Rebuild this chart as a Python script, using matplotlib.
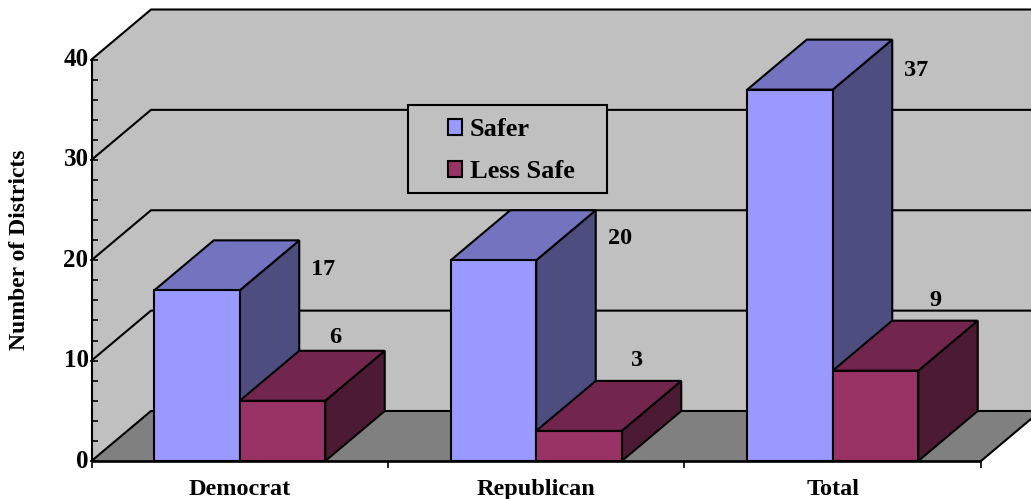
import matplotlib
matplotlib.use("Agg")
import matplotlib.pyplot as plt
from matplotlib.patches import Polygon, Patch, Rectangle

categories = ["Democrat", "Republican", "Total"]
safer = [17, 20, 37]
less_safe = [6, 3, 9]
series_names = ["Safer", "Less Safe"]
y_major = [0, 10, 20, 30, 40]
y_minor = [2, 4, 6, 8, 12, 14, 16, 18, 22, 24, 26, 28, 32, 34, 36, 38]

W, H = 1031, 499
FONT = "Liberation Serif"
FS = 17.5
LW = 1.5
WALL, FLOOR = "#C0C0C0", "#808080"
SAFER_C = ("#9999FF", "#7373BF", "#4D4D80")
LESS_C = ("#993366", "#73264D", "#4D1A33")
# label nudges in pixels (dx, dy up)
SAFER_NUDGE = [(24, -29), (24, -28), (24, -31)]
LESS_NUDGE = [(-50, 13), (-44, 20), (-42, 20)]

fig = plt.figure(figsize=(W / 100, H / 100), dpi=100, facecolor="white")
L, R, B, T = 91.5, 981, 461, 59.5
ax = fig.add_axes([L / W, 1 - B / H, (R - L) / W, (B - T) / H])
ax.set_xlim(0, 3)
ax.set_ylim(0, 40)
ax.axis("off")

DX = 59.5 / ((R - L) / 3)          # depth in category units
DY = 50 / ((B - T) / 40)           # depth in value units
BW = 85.5 / ((R - L) / 3)          # bar width in category units
PX = 3 / (R - L)                   # one pixel in x units
PY = 40 / (B - T)                  # one pixel in y units


def poly(pts, fc, z):
    ax.add_patch(Polygon(pts, closed=True, facecolor=fc, edgecolor="black",
                         linewidth=LW, joinstyle="miter", clip_on=False, zorder=z))


def line(xs, ys, z=2, lw=LW):
    ax.plot(xs, ys, color="black", lw=lw, clip_on=False, zorder=z, solid_capstyle="butt")


# walls and floor
XEND = 3 + DX
ax.add_patch(Polygon([(0, 0), (0, 40), (DX, 40 + DY), (XEND, 40 + DY), (XEND, DY), (DX, DY)],
                     facecolor=WALL, edgecolor="none", clip_on=False, zorder=0))
ax.add_patch(Polygon([(0, 0), (DX, DY), (XEND, DY), (3, 0)], facecolor=FLOOR,
                     edgecolor="none", clip_on=False, zorder=1))
for v in y_major:
    line([0, DX, XEND], [v, v + DY, v + DY])
line([3, XEND], [0, DY])

# axes lines and ticks
line([0, 0], [0, 40], z=2, lw=LW)
line([0, 3], [0, 0], z=8, lw=LW + 0.4)
for v in y_major:
    line([-2 * PX, 6 * PX], [v, v], z=3, lw=1.2)
    ax.text(-3 * PX, v, str(v), ha="right", va="center", family=FONT,
            fontweight="bold", fontsize=FS + 0.5, clip_on=False)
for v in y_minor:
    line([0, 6 * PX], [v, v], z=3, lw=1.2)
for i in range(4):
    line([i, i], [0, -7 * PY], z=3, lw=1.2)
for i, c in enumerate(categories):
    ax.text(i + 0.5, -34 * PY, c, ha="center", va="baseline", family=FONT,
            fontweight="bold", fontsize=FS, clip_on=False)
fig.text(20 / W, 1 - 250 / H, "Number of Districts", rotation=90, ha="center",
         va="center", family=FONT, fontweight="bold", fontsize=FS - 0.5)


def bar3d(x0, v, cols, z):
    x1 = x0 + BW
    poly([(x1, 0), (x1 + DX, DY), (x1 + DX, v + DY), (x1, v)], cols[2], z)
    poly([(x0, v), (x1, v), (x1 + DX, v + DY), (x0 + DX, v + DY)], cols[1], z)
    poly([(x0, 0), (x1, 0), (x1, v), (x0, v)], cols[0], z)


for i in range(3):
    c = i + 0.5
    z = 4 + i * 0.1
    bar3d(c - BW, safer[i], SAFER_C, z)
    bar3d(c, less_safe[i], LESS_C, z + 0.05)
    ax.text(c + DX + SAFER_NUDGE[i][0] * PX, safer[i] + DY + SAFER_NUDGE[i][1] * PY,
            str(safer[i]), ha="center", va="center", family=FONT, fontweight="bold",
            fontsize=FS, zorder=9, clip_on=False)
    ax.text(c + BW + DX + LESS_NUDGE[i][0] * PX, less_safe[i] + DY + LESS_NUDGE[i][1] * PY,
            str(less_safe[i]), ha="center", va="center", family=FONT, fontweight="bold",
            fontsize=FS, zorder=9, clip_on=False)

# legend
fig.add_artist(Rectangle((408 / W, 1 - 193 / H), 199 / W, 88 / H, transform=fig.transFigure,
                         facecolor=WALL, edgecolor="black", linewidth=LW, zorder=19))
handles = [Patch(facecolor=SAFER_C[0], edgecolor="black", linewidth=LW, label=series_names[0]),
           Patch(facecolor=LESS_C[0], edgecolor="black", linewidth=LW, label=series_names[1])]
leg = fig.legend(handles=handles, loc="center left",
                 bbox_to_anchor=(448 / W, 1 - 151 / H), frameon=False,
                 prop={"family": FONT, "weight": "bold", "size": 19},
                 handlelength=0.53, handleheight=0.53, handletextpad=0.3,
                 labelspacing=0.72, borderpad=0, borderaxespad=0)
leg.set_zorder(20)

fig.savefig("out.png", dpi=100, facecolor="white")
